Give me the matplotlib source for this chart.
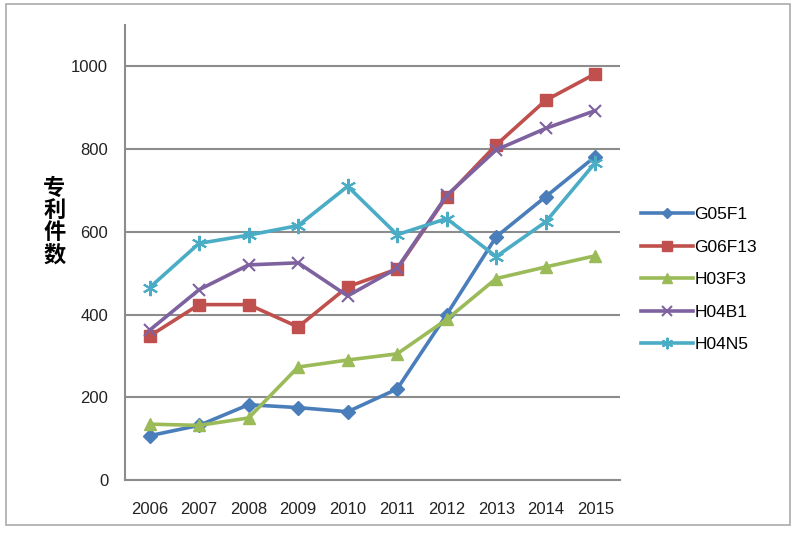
import numpy as np
import matplotlib
matplotlib.use('Agg')
import matplotlib.pyplot as plt
from matplotlib.patches import Rectangle

plt.rcParams['font.family'] = ['Liberation Sans', 'Noto Sans CJK SC', 'DejaVu Sans']

# data
years = ['2006', '2007', '2008', '2009', '2010', '2011', '2012', '2013', '2014', '2015']
g05f1 = [107, 132, 182, 175, 165, 220, 400, 588, 685, 782]
g06f13 = [348, 424, 424, 370, 467, 510, 685, 810, 918, 982]
h03f3 = [135, 132, 150, 273, 290, 305, 388, 487, 515, 542]
h04b1 = [362, 460, 520, 525, 445, 512, 688, 798, 850, 893]
h04n5 = [465, 572, 592, 615, 710, 593, 632, 540, 624, 767]
series_names = ['G05F1', 'G06F13', 'H03F3', 'H04B1', 'H04N5']
yticks = [0, 200, 400, 600, 800, 1000]

fig = plt.figure(figsize=(8, 5.41), dpi=100, facecolor='white')
ax = fig.add_axes([0.156, 0.1128, 0.619, 0.841])

x = np.arange(len(years))
styles = [
    (g05f1, '#4A7EBB', 'D', 7),
    (g06f13, '#C0504D', 's', 9),
    (h03f3, '#9BBB59', '^', 9),
    (h04b1, '#7E62A0', 'x', 9),
    (h04n5, '#4BACC6', (6, 2, 0), 11),
]
for (vals, col, mk, ms), name in zip(styles, series_names):
    ax.plot(x, vals, color=col, lw=2.6, marker=mk, markersize=ms,
            markeredgewidth=1.5 if mk in ('x', (6, 2, 0)) else 1,
            markerfacecolor=col, markeredgecolor=col, label=name, zorder=3)

ax.set_xlim(-0.5, len(years) - 0.5)
ax.set_ylim(0, 1100)
ax.set_yticks(yticks)
ax.set_xticks(x)
ax.set_xticklabels(years)
ax.tick_params(axis='both', length=0, labelsize=12, colors='#222222')
ax.tick_params(axis='x', pad=16)
ax.tick_params(axis='y', pad=12)
ax.yaxis.grid(True, color='#8c8c8c', lw=1.5)
ax.set_axisbelow(True)
for s in ['top', 'right']:
    ax.spines[s].set_visible(False)
for s in ['left', 'bottom']:
    ax.spines[s].set_color('#8c8c8c')
    ax.spines[s].set_linewidth(1.5)

fig.text(0.068, 0.59, '专\n利\n件\n数', family=['Noto Sans CJK SC'], fontsize=16,
         fontweight='bold', ha='center', va='center', linespacing=0.95)

leg = ax.legend(loc='center left', bbox_to_anchor=(1.01, 0.44), frameon=False,
                fontsize=12.5, handlelength=3.0, labelspacing=1.0, handletextpad=0.1,
                markerscale=0.75)

fig.patches.append(Rectangle((0.008, 0.03), 0.98, 0.962, transform=fig.transFigure,
                             fill=False, edgecolor='#aaaaaa', lw=1.2))

fig.savefig('out.png', dpi=100, facecolor='white')
